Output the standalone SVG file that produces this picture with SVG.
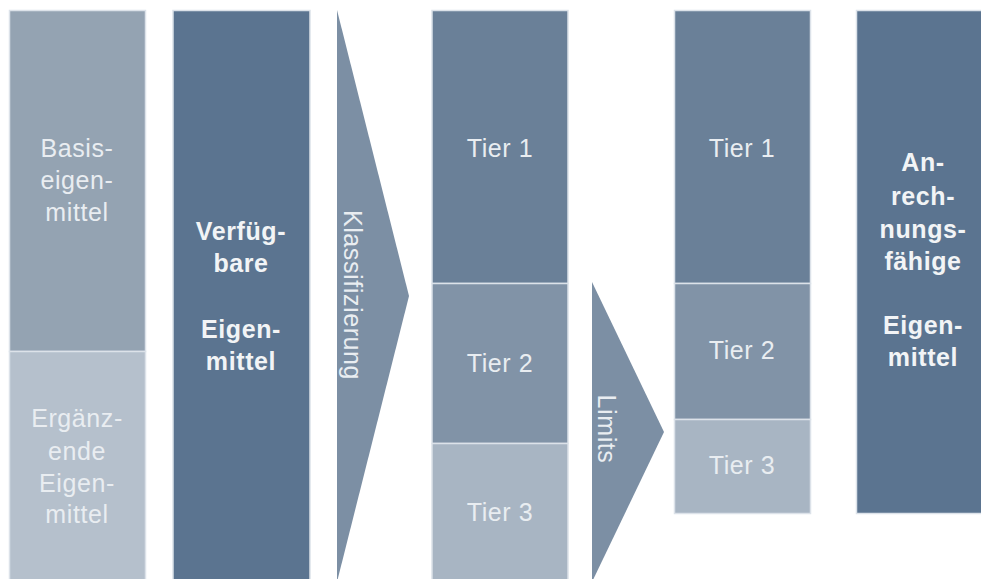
<svg xmlns="http://www.w3.org/2000/svg" width="981" height="579" viewBox="0 0 981 579">
<style>
  .box { stroke: #DCE2E9; stroke-width: 1.5; }
  .t { font-family: "Liberation Sans", Arial, sans-serif; font-size: 25px; letter-spacing: 0.6px; fill: #E9EDF1; text-anchor: middle; }
  .b { font-weight: bold; fill: #F2F4F6; }
  .arrow { fill: #7C8FA4; }
</style>
<rect width="981" height="579" fill="#FFFFFF"/>
<g id="basis">
  <rect class="box" x="9.5" y="10.5" width="136" height="341" fill="#94A3B2"/>
  <text class="t" x="77" y="157">Basis-</text>
  <text class="t" x="77" y="189">eigen-</text>
  <text class="t" x="77" y="221">mittel</text>
</g>
<g id="ergaenzende">
  <rect class="box" x="9.5" y="351.5" width="136" height="230" fill="#B5C0CC"/>
  <text class="t" x="77" y="427">Ergänz-</text>
  <text class="t" x="77" y="460">ende</text>
  <text class="t" x="77" y="492">Eigen-</text>
  <text class="t" x="77" y="523">mittel</text>
</g>
<g id="verfuegbare">
  <rect class="box" x="173" y="10.5" width="137" height="571" fill="#5B7490"/>
  <text class="t b" x="241" y="240">Verfüg-</text>
  <text class="t b" x="241" y="272">bare</text>
  <text class="t b" x="241" y="338">Eigen-</text>
  <text class="t b" x="241" y="370">mittel</text>
</g>
<g id="connectors">
  <g id="klassifizierung">
    <polygon class="arrow" points="337,10 409,296 337,582"/>
    <text class="t" transform="translate(344,295) rotate(90)">Klassifizierung</text>
  </g>
  <g id="limits">
    <polygon class="arrow" points="592,282 664,432 592,582"/>
    <text class="t" transform="translate(598,429) rotate(90)">Limits</text>
  </g>
</g>
<g id="tier1a">
  <rect class="box" x="432" y="10.5" width="136" height="273" fill="#6A8098"/>
  <text class="t" x="500" y="157">Tier 1</text>
</g>
<g id="tier2a">
  <rect class="box" x="432" y="283.5" width="136" height="160" fill="#8193A7"/>
  <text class="t" x="500" y="372">Tier 2</text>
</g>
<g id="tier3a">
  <rect class="box" x="432" y="443.5" width="136" height="138" fill="#A8B5C3"/>
  <text class="t" x="500" y="521">Tier 3</text>
</g>
<g id="tier1b">
  <rect class="box" x="674.5" y="10.5" width="136" height="273" fill="#6A8098"/>
  <text class="t" x="742" y="157">Tier 1</text>
</g>
<g id="tier2b">
  <rect class="box" x="674.5" y="283.5" width="136" height="136" fill="#8193A7"/>
  <text class="t" x="742" y="359">Tier 2</text>
</g>
<g id="tier3b">
  <rect class="box" x="674.5" y="419.5" width="136" height="94" fill="#A8B5C3"/>
  <text class="t" x="742" y="474">Tier 3</text>
</g>
<g id="anrechnungsfaehige">
  <rect class="box" x="856.5" y="10.5" width="136" height="503" fill="#5B7490"/>
  <text class="t b" x="923" y="171">An-</text>
  <text class="t b" x="923" y="205">rech-</text>
  <text class="t b" x="923" y="238">nungs-</text>
  <text class="t b" x="923" y="270">fähige</text>
  <text class="t b" x="923" y="334">Eigen-</text>
  <text class="t b" x="923" y="366">mittel</text>
</g>
</svg>
